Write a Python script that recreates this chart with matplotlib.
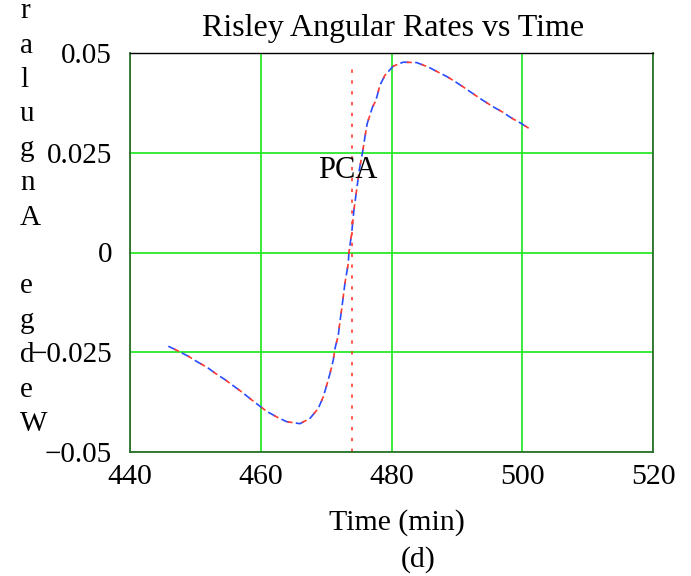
import numpy as np
import matplotlib.pyplot as plt

plt.rcParams['font.family'] = ['Liberation Serif', 'DejaVu Serif']

# data (time in minutes, rate)
time_min = [445.86, 447.39, 448.91, 450.29, 451.82, 453.15, 454.48, 455.80, 457.13,
            458.35, 459.77, 460.90, 462.43, 463.96, 465.99, 467.52, 468.79, 469.56,
            470.08, 470.58, 471.09, 471.35, 471.85, 472.11, 472.52, 472.87, 473.38,
            473.49, 473.90, 474.25, 474.66, 475.06, 475.58, 475.93, 476.28, 476.93,
            477.11, 477.61, 478.23, 478.99, 480.26, 481.79, 483.84, 485.61, 487.14,
            488.58, 489.95, 491.33, 492.65, 494.02, 495.46, 496.99, 498.36, 499.89,
            501.31]
rate_red = [-0.0235, -0.0247, -0.0260, -0.0274, -0.0288, -0.0304, -0.0318, -0.0334,
            -0.0350, -0.0366, -0.0384, -0.0398, -0.0412, -0.0424, -0.0429, -0.0416,
            -0.0391, -0.0362, -0.0333, -0.0304, -0.0270, -0.0241, -0.0208, -0.0174,
            -0.0124, -0.0078, -0.0028, 0.0001, 0.0047, 0.0106, 0.0156, 0.0206,
            0.0252, 0.0289, 0.0323, 0.0356, 0.0365, 0.0381, 0.0419, 0.0444, 0.0467,
            0.0477, 0.0476, 0.0465, 0.0452, 0.0440, 0.0426, 0.0411, 0.0396, 0.0381,
            0.0366, 0.0352, 0.0337, 0.0323, 0.0308]
rate_blue = list(rate_red)

pca_time = 473.9
pca_span = [-0.05, 0.047]

xticks = [440, 460, 480, 500, 520]
yticks = [-0.05, -0.025, 0, 0.025, 0.05]
ytick_labels = ['\u22120.05', '\u22120.025', '0', '0.025', '0.05']
ylabel = 'Wedge Angular'

W, H = 691, 576
fig = plt.figure(figsize=(W / 100, H / 100), dpi=100)
ax = fig.add_axes([130 / W, 1 - 452 / H, 523 / W, 399 / H])

ax.plot(time_min, rate_blue, color='#2a4cff', lw=1.2, linestyle=(0, (5, 4)))
ax.plot(time_min, rate_red, color='#ff3b2f', lw=1.2, linestyle=(5, (3, 6)))
ax.plot([pca_time, pca_time], pca_span, color='#ff3b2f', lw=1.2, linestyle=(0, (2, 4.5)))
ax.text(pca_time - 0.6, 0.0205, 'PCA', fontsize=22, ha='center', va='center')

ax.set_xlim(440, 520)
ax.set_ylim(-0.05, 0.05)
ax.set_xticks(xticks)
ax.set_xticklabels([str(t) for t in xticks], fontsize=21.5)
ax.set_yticks(yticks)
ax.set_yticklabels(ytick_labels, fontsize=21)
ax.tick_params(length=0)
ax.tick_params(axis='x', pad=9)
ax.tick_params(axis='y', pad=13)
ax.grid(True, color='#19e619', lw=1.2)
ax.set_axisbelow(True)
for s in ['left', 'bottom', 'right']:
    ax.spines[s].set_color('#2d6e2d')
    ax.spines[s].set_linewidth(1.3)
ax.spines['top'].set_color('black')
ax.spines['top'].set_linewidth(1.0)

fig.text(393 / W, 1 - 36 / H, 'Risley Angular Rates vs Time', fontsize=23,
         ha='center', va='baseline')
fig.text(397 / W, 1 - 523 / H, 'Time (min)', fontsize=21.5, ha='center', va='center')
fig.text(418 / W, 1 - 560 / H, '(d)', fontsize=21.5, ha='center', va='center')

# vertical label, letters stacked bottom to top
step = 34.4
for i, ch in enumerate(ylabel):
    if ch == ' ':
        continue
    fig.text(20 / W, 1 - (431 - i * step) / H, ch, fontsize=21, ha='left', va='baseline')

fig.savefig('out.png', dpi=100)
